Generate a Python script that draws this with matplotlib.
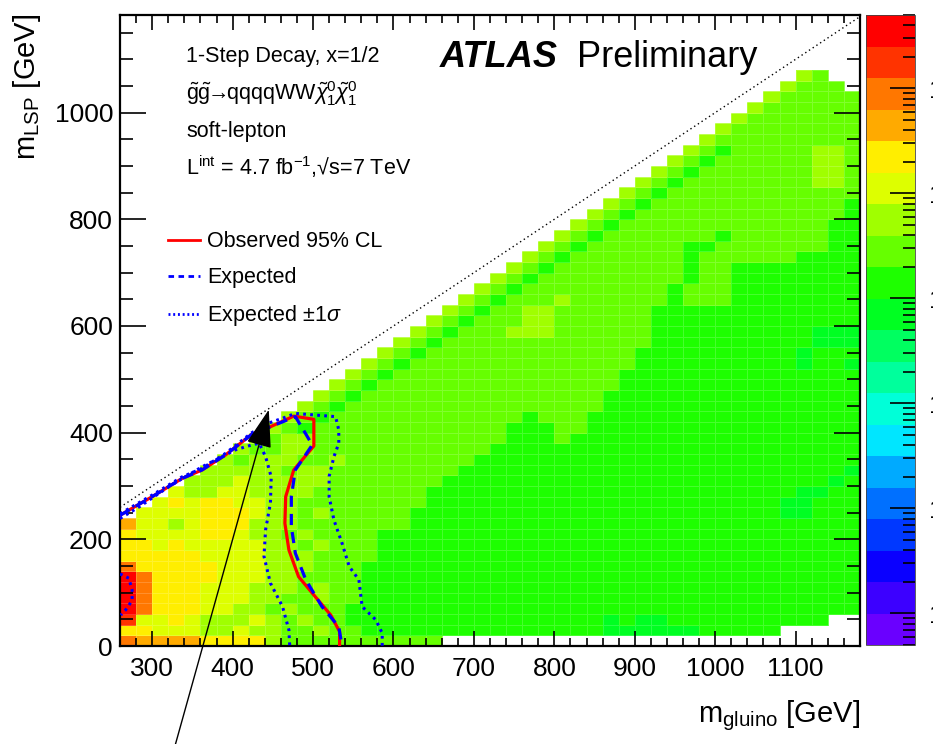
import numpy as np
import matplotlib
matplotlib.use('Agg')
import matplotlib.pyplot as plt
from matplotlib.colors import ListedColormap, LogNorm
from matplotlib.ticker import MultipleLocator, FixedLocator, LogLocator, NullFormatter
from matplotlib.patches import FancyArrowPatch

plt.rcParams['font.family'] = ['Liberation Sans', 'DejaVu Sans']
plt.rcParams['mathtext.fontset'] = 'custom'
plt.rcParams['mathtext.rm'] = 'Liberation Sans'
plt.rcParams['mathtext.it'] = 'Liberation Sans:italic'
plt.rcParams['mathtext.bf'] = 'Liberation Sans:bold'

# palette bands (bottom -> top of the colour scale), 20 log-spaced bands
band_colors = ['#6a00ff', '#3c00ff', '#0a00ff', '#0038ff', '#0070ff',
               '#00aaff', '#00e6ff', '#00ffd8', '#00ff9c', '#00ff60',
               '#00ff22', '#1eff00', '#66ff00', '#a0ff00', '#ddff00',
               '#ffee00', '#ffaa00', '#ff7700', '#ff3300', '#ff0000']
band_letters = {'e': 10, 'g': 11, 'G': 12, 'L': 13, 'y': 14,
                'Y': 15, 'o': 16, 'O': 17, 'r': 18, 'R': 19}
z_min, z_max = 5e-4, 5e2
cbar_decades = [1e-3, 1e-2, 1e-1, 1e0, 1e1, 1e2]

# grid: 20 GeV bins, m_gluino 260-1180, m_LSP 0-1080
x_edges = np.arange(260, 1181, 20)
y_edges = np.arange(0, 1081, 20)

# colour band read per bin: (first gluino bin, bands) for each m_LSP row, top row first
cell_rows = [
    (42, "LG"),
    (41, "LGGG"),
    (40, "LGGGGG"),
    (39, "LGGGGGG"),
    (38, "LGGGGGGG"),
    (37, "LGGGGGGGG"),
    (36, "LGGGGGGGGG"),
    (35, "LGgGGGGGLLG"),
    (34, "LGgGGGGGGLLG"),
    (33, "LGgGGGGGGGLLG"),
    (32, "LGgGGGGGGGGLLG"),
    (31, "LGgGGGGGGGGGGGG"),
    (30, "LGgGGGGGGGGGGGGg"),
    (29, "LGgGGGGGGGGGGGGGg"),
    (28, "LGgGGGGGGGGGGGGGgg"),
    (27, "LGgGGGGGGGgGGGGGGgg"),
    (26, "LGgGGGGGGggGGGGGGGgg"),
    (25, "LGgGGGGGGGgGGGGGGgggg"),
    (24, "LGgGGGGGGGGgGGgggggggg"),
    (23, "LGgGGGGGGGGGgGGgggggggg"),
    (22, "LGgGGGGGGGGGgGGGgggggggg"),
    (21, "LGgGGGLGGGGGGgGGGgggggggg"),
    (20, "LGgGGLLGGGGGGggggggggggggg"),
    (19, "LGgGGGLLGGGGGGggggggggggggg"),
    (18, "LGgGGGLLLGGGGGGggggggggggeee"),
    (17, "LGg" + "G" * 13 + "g" * 10 + "eee"),
    (16, "LGg" + "G" * 13 + "g" * 10 + "e" + "ggg"),
    (15, "LGg" + "G" * 14 + "g" * 10 + "e" + "gg" + "e"),
    (14, "LGg" + "G" * 14 + "g" * 15),
    (13, "LGg" + "G" * 15 + "g" * 15),
    (12, "LGg" + "G" * 15 + "g" * 16),
    (11, "LGg" + "G" * 16 + "g" * 16),
    (10, "LGg" + "G" * 12 + "g" + "GGG" + "g" * 17),
    (9, "LGg" + "G" * 12 + "ggg" + "GG" + "g" * 17),
    (8, "LGLLGGGGGGGGGGG" + "G" + "ggg" + "G" + "g" * 18),
    (7, "LGGLLGGGGGGGGGGG" + "g" * 23),
    (6, "LGLLLGGLGGGGGGGGg" + "g" * 23),
    (5, "LLLLLGLLGGGGGGGGgg" + "g" * 22 + "e"),
    (4, "LLLyLLLLLGGGGGGGggg" + "g" * 21 + "e" + "g"),
    (3, "yLLyyLLLLGGGGGGGgggg" + "g" * 19 + "ee" + "gg"),
    (2, "yYyYYyyLLGGGGGGGGgggg" + "g" * 18 + "ee" + "ggg"),
    (1, "yyyyYYYyLLGLGGGGGggggg" + "g" * 18 + "ee" + "ggg"),
    (0, "oyyLyYYYLLLGGGGGGGggggg" + "g" * 23),
    (0, "YyyyyYYyLLGLGGGG" + "g" * 30),
    (0, "YYyYyyyyyLLGLGGG" + "g" * 30),
    (0, "YYYYYyyyyLLLGGGG" + "g" * 30),
    (0, "OYYYYYyyyLLLGGG" + "g" * 31),
    (0, "ROYYYYyyyLLGGGG" + "g" * 31),
    (0, "ROYYYyyyLLLGLGG" + "g" * 31),
    (0, "ROYYYyyyLLGGLGG" + "g" * 31),
    (0, "ROYYYyyLLGLGGG" + "g" * 32),
    (0, "ryyYyLLLyLGLGG" + "g" * 16 + "e" + "g" + "ee" + "g" * 10),
    (0, "YYyyyLLyLLGGLGG" + "g" * 15 + "eeeeee" + "ggggg"),
    (0, "OooooYYYYLGGGGGGGGGG"),
]

# limit contours (m_gluino, m_LSP)
obs_x = [260, 300, 337, 362, 391, 424, 447, 476, 501, 501, 476, 466, 465, 470, 482, 503, 522, 533, 533]
obs_y = [245, 280, 314, 330, 358, 397, 411, 431, 425, 375, 330, 280, 230, 180, 130, 92, 58, 27, 0]
exp_x = [260, 300, 337, 362, 391, 424, 447, 478, 490, 499, 478, 473, 473, 478, 491, 511, 532, 536]
exp_y = [245, 280, 314, 330, 358, 397, 411, 430, 400, 377, 330, 280, 224, 174, 124, 74, 36, 0]
sig_lo_x = [260, 284, 321, 362, 383, 404, 424, 433, 441, 448, 447, 441, 439, 447, 462, 470, 471]
sig_lo_y = [239, 261, 299, 336, 352, 368, 377, 380, 355, 317, 268, 218, 168, 118, 74, 30, 0]
sig_hi_x = [260, 300, 337, 362, 391, 424, 445, 462, 478, 503, 528, 532, 532, 526, 520, 520, 526,
            536, 545, 557, 561, 578, 586, 586]
sig_hi_y = [248, 283, 317, 333, 361, 400, 418, 427, 436, 433, 430, 405, 380, 355, 318, 280, 236,
            193, 149, 124, 74, 49, 24, 0]
island_x = [260, 263, 271, 275, 275, 269, 261]
island_y = [135, 133, 127, 105, 86, 71, 58]

header_lines = ['1-Step Decay, x=1/2',
                r'$\mathrm{\tilde{g}\tilde{g}}\!\!\rightarrow\!\!$qqqqWW$\tilde{\chi}^{0}_{1}\tilde{\chi}^{0}_{1}$',
                'soft-lepton',
                r'L$^{\mathrm{int}}$ = 4.7 fb$^{-1}$,√s=7 TeV']
legend_labels = ['Observed 95% CL', 'Expected', r'Expected $\pm$1$\sigma$']

# build the binned map
n_rows = len(y_edges) - 1
n_cols = len(x_edges) - 1
Z = np.full((n_rows, n_cols), np.nan)
for i, (start, bands) in enumerate(cell_rows):
    row = n_rows - 1 - i
    for k, ch in enumerate(bands):
        b = band_letters[ch]
        Z[row, start + k] = z_min * 10 ** ((b + 0.5) * np.log10(z_max / z_min) / 20)
Z = np.ma.masked_invalid(Z)

fig = plt.figure(figsize=(9.33, 7.44), dpi=100)
ax = fig.add_axes([120 / 933, 1 - 646 / 744, 740 / 933, 631 / 744])
cax = fig.add_axes([866 / 933, 1 - 645 / 744, 49 / 933, 630 / 744])

cmap = ListedColormap(band_colors)
norm = LogNorm(vmin=z_min, vmax=z_max)
mesh = ax.pcolormesh(x_edges, y_edges, Z, cmap=cmap, norm=norm,
                     edgecolors=(1, 1, 1, 0.18), linewidth=0.4, zorder=1)

ax.plot(obs_x, obs_y, color='#ff0000', lw=2.3, zorder=4)
ax.plot(exp_x, exp_y, color='#0000ff', lw=2.3, ls=(0, (3.5, 2.2)), zorder=5)
for xs, ys in [(sig_lo_x, sig_lo_y), (sig_hi_x, sig_hi_y), (island_x, island_y)]:
    ax.plot(xs, ys, color='#0000ff', lw=2.2, ls=(0, (0.9, 1.4)), zorder=5)

# kinematic limit
ax.plot([260, 1180], [260, 1180], color='k', lw=1.0, ls=(0, (1, 2.2)), zorder=3)

arrow = FancyArrowPatch((326, -200), (445, 443), arrowstyle='-|>,head_length=1.2,head_width=0.4',
                        mutation_scale=20, color='k', lw=1.0, shrinkA=0, shrinkB=0,
                        transform=ax.transData, clip_on=False, zorder=6)
ax.add_patch(arrow)

ax.set_xlim(260, 1180)
ax.set_ylim(0, 1183)
ax.xaxis.set_major_locator(MultipleLocator(100))
ax.xaxis.set_minor_locator(MultipleLocator(20))
ax.yaxis.set_major_locator(MultipleLocator(200))
ax.yaxis.set_minor_locator(MultipleLocator(50))
ax.tick_params(axis='both', which='both', direction='in', top=True, right=True,
               labelsize=19, width=1.2, color='k')
ax.tick_params(axis='x', which='major', length=11, pad=8)
ax.tick_params(axis='x', which='minor', length=5.5)
ax.tick_params(axis='y', which='major', length=19, pad=5)
ax.tick_params(axis='y', which='minor', length=9.5)
for sp in ax.spines.values():
    sp.set_linewidth(1.6)

fig.text(860 / 933, 1 - 722 / 744, r'm$_{\mathrm{gluino}}$ [GeV]', fontsize=21,
         ha='right', va='baseline')
fig.text(27 / 933, 1 - 14 / 744, r'm$_{\mathrm{LSP}}$ [GeV]', fontsize=21,
         ha='center', va='top', rotation=90)

# header text
for txt, py in zip(header_lines, [62, 100, 137, 175]):
    ax.text((186 - 120) / 740, (646 - py) / 631, txt, transform=ax.transAxes,
            fontsize=15.5, ha='left', va='baseline')

ax.text((440 - 120) / 740, (646 - 67) / 631, 'ATLAS', transform=ax.transAxes,
        fontsize=26, fontweight='bold', fontstyle='italic', ha='left', va='baseline')
ax.text((577 - 120) / 740, (646 - 67) / 631, 'Preliminary', transform=ax.transAxes,
        fontsize=26, ha='left', va='baseline')

# legend drawn by hand, ROOT style
leg_styles = [dict(color='#ff0000', ls='-'),
              dict(color='#0000ff', ls=(0, (2.0, 1.6))),
              dict(color='#0000ff', ls=(0, (0.7, 1.0)))]
for lab, st, py in zip(legend_labels, leg_styles, [240, 276, 314]):
    yy = (646 - py) / 631
    ax.plot([(168 - 120) / 740, (200 - 120) / 740], [yy, yy], transform=ax.transAxes,
            lw=2.0, clip_on=False, zorder=7, **st)
    ax.text((207 - 120) / 740, (646 - py - 7) / 631, lab, transform=ax.transAxes,
            fontsize=15.5, ha='left', va='baseline')

# colour scale
cb = fig.colorbar(mesh, cax=cax)
cb.outline.set_linewidth(0.6)
cb.outline.set_edgecolor('#444444')
cax.yaxis.set_major_locator(FixedLocator(cbar_decades))
cax.yaxis.set_minor_locator(LogLocator(base=10, subs=np.arange(2, 10)))
cax.yaxis.set_minor_formatter(NullFormatter())
cax.tick_params(which='both', direction='in', right=True, left=False, width=1.2,
                labelsize=19, pad=9)
cax.tick_params(which='major', length=18)
cax.tick_params(which='minor', length=9)

fig.savefig('out.png', dpi=100, facecolor='white')
